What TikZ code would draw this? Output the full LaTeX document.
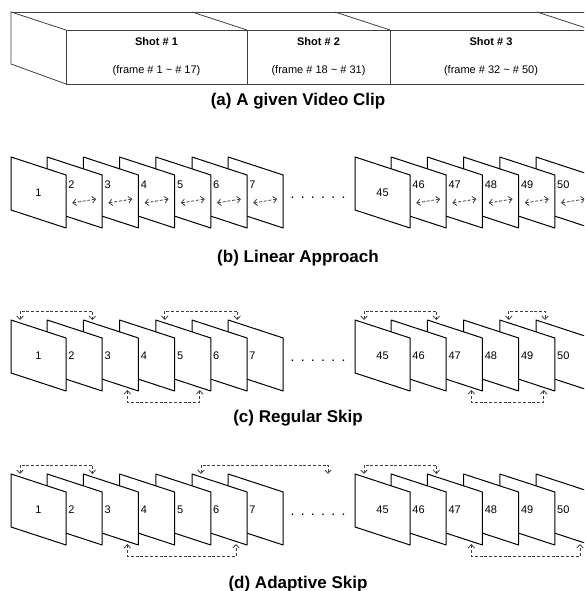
\documentclass[tikz,border=0pt]{standalone}
\usepackage{fontspec}
\setmainfont{Liberation Sans}
\usetikzlibrary{arrows.meta,positioning,calc}

\begin{document}
\begin{tikzpicture}[x=1pt, y=-1pt,
    frm/.style={draw, fill=white, line width=1pt, line join=round},
    num/.style={font=\fontsize{11}{13}\selectfont, inner sep=0pt},
    shot/.style={draw=black!75, line width=0.8pt, minimum height=54pt,
                 inner sep=0pt, outer sep=0pt, align=center,
                 font=\fontsize{11}{13}\selectfont},
    boxside/.style={draw=black!75, line width=0.8pt},
    subcap/.style={font=\fontsize{17}{20}\selectfont\bfseries, anchor=base},
    link/.style={dash pattern=on 3pt off 1.8pt, line width=0.8pt, draw=black!75,
                 {Straight Barb[length=3.5pt,width=6.5pt]}-{Straight Barb[length=3.5pt,width=6.5pt]}},
  ]
  \useasboundingbox (0,0) rectangle (584,591);
  \clip (0,0) rectangle (584,591);

  % (a) the clip as a long box
  \node[shot, minimum width=181pt] (shot1) at (156.5,57)
    {\textbf{Shot \# 1}\\[15pt](frame \# 1 \textasciitilde{} \# 17)};
  \node[shot, minimum width=143pt, right=0pt of shot1] (shot2)
    {\textbf{Shot \# 2}\\[15pt](frame \# 18 \textasciitilde{} \# 31)};
  \node[shot, minimum width=202pt, right=0pt of shot2] (shot3)
    {\textbf{Shot \# 3}\\[15pt](frame \# 32 \textasciitilde{} \# 50)};
  \draw[boxside] (shot1.south west) -- ++(-55,-20) -- ++(0,-52) -- (shot1.north west);
  \draw[boxside] (shot1.north west) ++(-55,-18) -- ++(600,0);
  \draw[boxside] (shot1.north east) -- ++(-55,-18);
  \draw[boxside] (shot2.north east) -- ++(-55,-18);
  \draw[boxside] (shot3.north east) -- ++(-55,-18);
  \node[subcap] (capa) at (298,106) {(a) A given Video Clip};

  % frames, right to left so each one hides the left part of the next
  \foreach \rw/\y in {b/157, c/320, d/474}{
    \foreach \k in {50,49,48,47,46,45,7,6,5,4,3,2,1}{
      \pgfmathsetmacro{\X}{\k<45 ? 11+36.2*(\k-1) : 355+36.2*(\k-45)}
      \draw[frm] (\X,\y) coordinate (\rw\k) -- ++(55,18) -- ++(0,53) -- ++(-55,-18) -- cycle;
      \coordinate (\rw\k t) at (\X+9,\y);
      \coordinate (\rw\k u) at (\X+44,\y+70);
    }
    \node[num, font=\fontsize{14}{16}\selectfont] (\rw dots) at (318,\y+41)
      {.\hskip6.3pt.\hskip6.3pt.\hskip6.3pt.\hskip6.3pt.\hskip6.3pt.};
  }

  % frame numbers
  \foreach \rw/\dy in {b/28, c/36, d/36}{
    \node[num] (\rw n1) at ($(\rw1)+(27.5,36)$) {1};
    \node[num] (\rw n45) at ($(\rw45)+(27.5,36)$) {45};
    \foreach \k in {2,3,4,5,6,7,46,47,48,49,50}
      \node[num, anchor=west] (\rw n\k) at ($(\rw\k)+(21,\dy)$) {\k};
  }

  % (b) linear approach
  \foreach \k in {2,3,4,5,6,7,46,47,48,49,50}
    \draw[link] ($(b\k)+(25,46)$) -- ($(b\k)+(49,42)$);
  \node[subcap] (capb) at (298,262) {(b) Linear Approach};

  % (c) regular skip
  \draw[link] (c1t) -- ++(0,-9) -| (c3t);
  \draw[link] (c5t) -- ++(0,-9) -| (c7t);
  \draw[link] (c45t) -- ++(0,-9) -| (c47t);
  \draw[link] (c49t) -- ++(0,-9) -| (c50t);
  \draw[link] (c3u) -- ++(0,12) -| (c5u);
  \draw[link] (c47u) -- ++(0,12) -| (c49u);
  \node[subcap] (capc) at (298,422) {(c) Regular Skip};

  % (d) adaptive skip
  \coordinate (dgap) at (328,474);
  \draw[link] (d1t) -- ++(0,-9) -| (d3t);
  \draw[link] (d6t) -- ++(0,-9) -| (dgap);
  \draw[link] (d45t) -- ++(0,-9) -| (d47t);
  \draw[link] (d3u) -- ++(0,12) -| (d6u);
  \draw[link] (d47u) -- ++(0,12) -| (d50u);
  \node[subcap] (capd) at (298,588) {(d) Adaptive Skip};
\end{tikzpicture}
\end{document}
